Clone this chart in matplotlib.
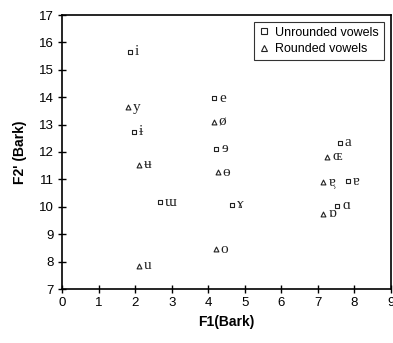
import matplotlib
matplotlib.use("Agg")
import matplotlib.pyplot as plt
from matplotlib.lines import Line2D

# Unrounded vowels
unr_labels = ["i", "ɨ", "ɯ", "e", "ɘ", "ɤ", "a", "ɐ", "ɑ"]
unr_f1 = [1.84, 1.95, 2.68, 4.16, 4.22, 4.66, 7.59, 7.81, 7.53]
unr_f2 = [15.65, 12.73, 10.16, 13.97, 12.11, 10.07, 12.33, 10.94, 10.03]

# Rounded vowels
rnd_labels = ["y", "ʉ", "u", "ø", "ɵ", "o", "ɶ", "ɐ̹", "ɒ"]
rnd_f1 = [1.81, 2.11, 2.11, 4.14, 4.25, 4.2, 7.26, 7.15, 7.15]
rnd_f2 = [13.64, 11.53, 7.84, 13.09, 11.27, 8.45, 11.82, 10.91, 9.74]

xticks = list(range(0, 10))
yticks = list(range(7, 18))

plt.rcParams['font.family'] = ['Liberation Sans', 'DejaVu Sans']

fig = plt.figure(figsize=(3.93, 3.43), dpi=100)
ax = fig.add_axes([62.3/393, 1-289/343, (391-62.3)/393, (289-15)/343])

ax.scatter(unr_f1, unr_f2, marker='s', s=12, facecolors='white', edgecolors='#222222', linewidths=0.8, zorder=3)
ax.scatter(rnd_f1, rnd_f2, marker='^', s=12, facecolors='white', edgecolors='#222222', linewidths=0.8, zorder=3)

for lab, x, y in zip(unr_labels + rnd_labels, unr_f1 + rnd_f1, unr_f2 + rnd_f2):
    ax.annotate(lab, (x, y), xytext=(3.5, 0), textcoords='offset points',
                ha='left', va='center', fontsize=11,
                family=['Liberation Serif', 'DejaVu Serif'], color='#222222')

ax.set_xlim(0, 9)
ax.set_ylim(7, 17)
ax.set_xticks(xticks)
ax.set_yticks(yticks)
ax.tick_params(direction='inout', length=6, width=1, labelsize=9.5, pad=3)
for s in ax.spines.values():
    s.set_linewidth(1.2)
    s.set_color('black')

ax.set_xlabel("F1(Bark)", fontsize=10, fontweight='bold', labelpad=4)
ax.set_ylabel("F2' (Bark)", fontsize=10, fontweight='bold', labelpad=9)

handles = [
    Line2D([], [], marker='s', linestyle='none', markersize=4, markerfacecolor='white', markeredgecolor='#222222', markeredgewidth=0.8),
    Line2D([], [], marker='^', linestyle='none', markersize=4, markerfacecolor='white', markeredgecolor='#222222', markeredgewidth=0.8),
]
leg = ax.legend(handles, ["Unrounded vowels", "Rounded vowels"], loc='upper right',
                bbox_to_anchor=(0.978, 0.976), fontsize=9, frameon=True, fancybox=False,
                edgecolor='black', handlelength=0.8, handletextpad=0.5, borderpad=0.4,
                labelspacing=0.35, borderaxespad=0)
leg.get_frame().set_linewidth(0.8)

fig.savefig("out.png", dpi=100)
